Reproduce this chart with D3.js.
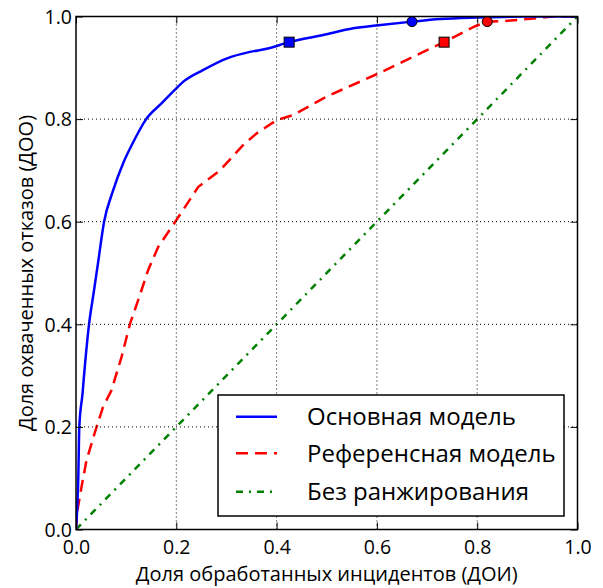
<!DOCTYPE html>
<html><head><meta charset="utf-8">
<script src="https://cdn.jsdelivr.net/npm/d3@7"></script>
<style>body{margin:0;background:#fff}svg{display:block}text{font-family:"Open Sans",sans-serif;fill:#000}</style>
</head><body>
<script>
const blueX = [0, 0.0046, 0.0066, 0.013, 0.016, 0.026, 0.035, 0.044, 0.056, 0.073, 0.094, 0.113, 0.14, 0.171, 0.197, 0.214, 0.254, 0.30, 0.347, 0.38, 0.425, 0.493, 0.553, 0.603, 0.67, 0.726, 0.8, 0.9, 1.0];
const blueY = [0, 0.103, 0.2, 0.265, 0.3, 0.4, 0.46, 0.52, 0.6, 0.658, 0.714, 0.753, 0.8, 0.831, 0.857, 0.873, 0.896, 0.918, 0.931, 0.937, 0.95, 0.964, 0.977, 0.983, 0.99, 0.995, 0.998, 1.0, 1.0];
const redX = [0, 0.003, 0.011, 0.021, 0.041, 0.054, 0.071, 0.091, 0.108, 0.124, 0.144, 0.164, 0.2, 0.244, 0.287, 0.334, 0.36, 0.40, 0.433, 0.50, 0.603, 0.673, 0.734, 0.796, 0.82, 0.852, 0.912, 0.95, 1.0];
const redY = [0, 0.038, 0.083, 0.135, 0.2, 0.239, 0.272, 0.337, 0.402, 0.447, 0.506, 0.551, 0.603, 0.668, 0.70, 0.75, 0.772, 0.798, 0.808, 0.844, 0.889, 0.922, 0.95, 0.981, 0.99, 0.991, 0.996, 1.0, 1.0];
const greenX = [0, 1];
const greenY = [0, 1];
const blueMarkers = [{x:0.425, y:0.95, shape:"square"}, {x:0.67, y:0.99, shape:"circle"}];
const redMarkers = [{x:0.734, y:0.95, shape:"square"}, {x:0.82, y:0.99, shape:"circle"}];
const ticks = [0, 0.2, 0.4, 0.6, 0.8, 1.0];
const legendLabels = ["Основная модель", "Референсная модель", "Без ранжирования"];
const xLabel = "Доля обработанных инцидентов (ДОИ)";
const yLabel = "Доля охваченных отказов (ДОО)";

const W = 603, H = 588;
const L = 76, R = 577.5, T = 16.5, B = 529.5;
const svg = d3.select("body").append("svg").attr("width", W).attr("height", H);
const x = d3.scaleLinear().domain([0,1]).range([L,R]);
const y = d3.scaleLinear().domain([0,1]).range([B,T]);

svg.append("clipPath").attr("id","clip").append("rect")
  .attr("x",L).attr("y",T).attr("width",R-L).attr("height",B-T);

// lines
const line = d3.line().x(d=>x(d[0])).y(d=>y(d[1]));
const smooth = d3.line().x(d=>x(d[0])).y(d=>y(d[1])).curve(d3.curveMonotoneX);
const g = svg.append("g").attr("clip-path","url(#clip)");
g.append("path").datum(d3.zip(greenX, greenY)).attr("d", line)
  .attr("fill","none").attr("stroke","#008000").attr("stroke-width",2.5)
  .attr("stroke-dasharray","7,6,2,6");
g.append("path").datum(d3.zip(redX, redY)).attr("d", line)
  .attr("fill","none").attr("stroke","#ff0000").attr("stroke-width",2.5)
  .attr("stroke-dasharray","12,7");
g.append("path").datum(d3.zip(blueX, blueY)).attr("d", smooth)
  .attr("fill","none").attr("stroke","#0000ff").attr("stroke-width",2.5);

// grid
const grid = svg.append("g");
ticks.slice(1,-1).forEach(t=>{
  grid.append("line").attr("x1",x(t)).attr("x2",x(t)).attr("y1",T).attr("y2",B)
    .attr("stroke","#000").attr("stroke-width",1).attr("stroke-dasharray","1,3");
  grid.append("line").attr("y1",y(t)).attr("y2",y(t)).attr("x1",L).attr("x2",R)
    .attr("stroke","#000").attr("stroke-width",1).attr("stroke-dasharray","1,3");
});

// markers
function drawMarkers(arr, color){
  arr.forEach(m=>{
    if(m.shape==="square"){
      svg.append("rect").attr("x",x(m.x)-5).attr("y",y(m.y)-5).attr("width",10).attr("height",10)
        .attr("fill",color).attr("stroke","#000").attr("stroke-width",1);
    } else {
      svg.append("circle").attr("cx",x(m.x)).attr("cy",y(m.y)).attr("r",5)
        .attr("fill",color).attr("stroke","#000").attr("stroke-width",1);
    }
  });
}
drawMarkers(blueMarkers, "#0000ff");
drawMarkers(redMarkers, "#ff0000");

// axes (ticks inside, mirrored)
const fmt = d3.format(".1f");
const axB = svg.append("g").attr("transform",`translate(0,${B})`)
  .call(d3.axisBottom(x).tickValues(ticks).tickFormat(fmt).tickSize(-7).tickPadding(11));
const axT = svg.append("g").attr("transform",`translate(0,${T})`)
  .call(d3.axisTop(x).tickValues(ticks).tickFormat("").tickSize(-7));
const axL = svg.append("g").attr("transform",`translate(${L},0)`)
  .call(d3.axisLeft(y).tickValues(ticks).tickFormat(fmt).tickSize(-7).tickPadding(4));
const axR = svg.append("g").attr("transform",`translate(${R},0)`)
  .call(d3.axisRight(y).tickValues(ticks).tickFormat("").tickSize(-7));
[axB,axT,axL,axR].forEach(a=>{
  a.select(".domain").remove();
  a.selectAll(".tick line").attr("stroke","#000").attr("stroke-width",1);
  a.selectAll("text").attr("font-family",'"Open Sans",sans-serif').attr("font-size",19.5).attr("fill","#000");
});
axL.selectAll("text").attr("dy","0.35em");

svg.append("rect").attr("x",L).attr("y",T).attr("width",R-L).attr("height",B-T)
  .attr("fill","none").attr("stroke","#000").attr("stroke-width",1.5);

// labels
svg.append("text").attr("x",(L+R)/2).attr("y",581).attr("text-anchor","middle")
  .attr("font-size",20).text(xLabel);
svg.append("text").attr("transform",`translate(33,${(T+B)/2}) rotate(-90)`).attr("text-anchor","middle")
  .attr("font-size",20).text(yLabel);

// legend
const lg = svg.append("g");
lg.append("rect").attr("x",218).attr("y",395).attr("width",346).attr("height",121)
  .attr("fill","#fff").attr("stroke","#000").attr("stroke-width",1.5);
const styles = [
  {c:"#0000ff", d:null},
  {c:"#ff0000", d:"12,7"},
  {c:"#008000", d:"7,6,2,6"}
];
const rowsY = [416.7, 453.3, 491.7];
legendLabels.forEach((lab,i)=>{
  const ln = lg.append("line").attr("x1",236).attr("x2",277).attr("y1",rowsY[i]).attr("y2",rowsY[i])
    .attr("stroke",styles[i].c).attr("stroke-width",2.5);
  if(styles[i].d) ln.attr("stroke-dasharray",styles[i].d);
  lg.append("text").attr("x",307).attr("y",rowsY[i]).attr("dy","0.36em").attr("font-size",24).text(lab);
});
</script>
</body></html>
